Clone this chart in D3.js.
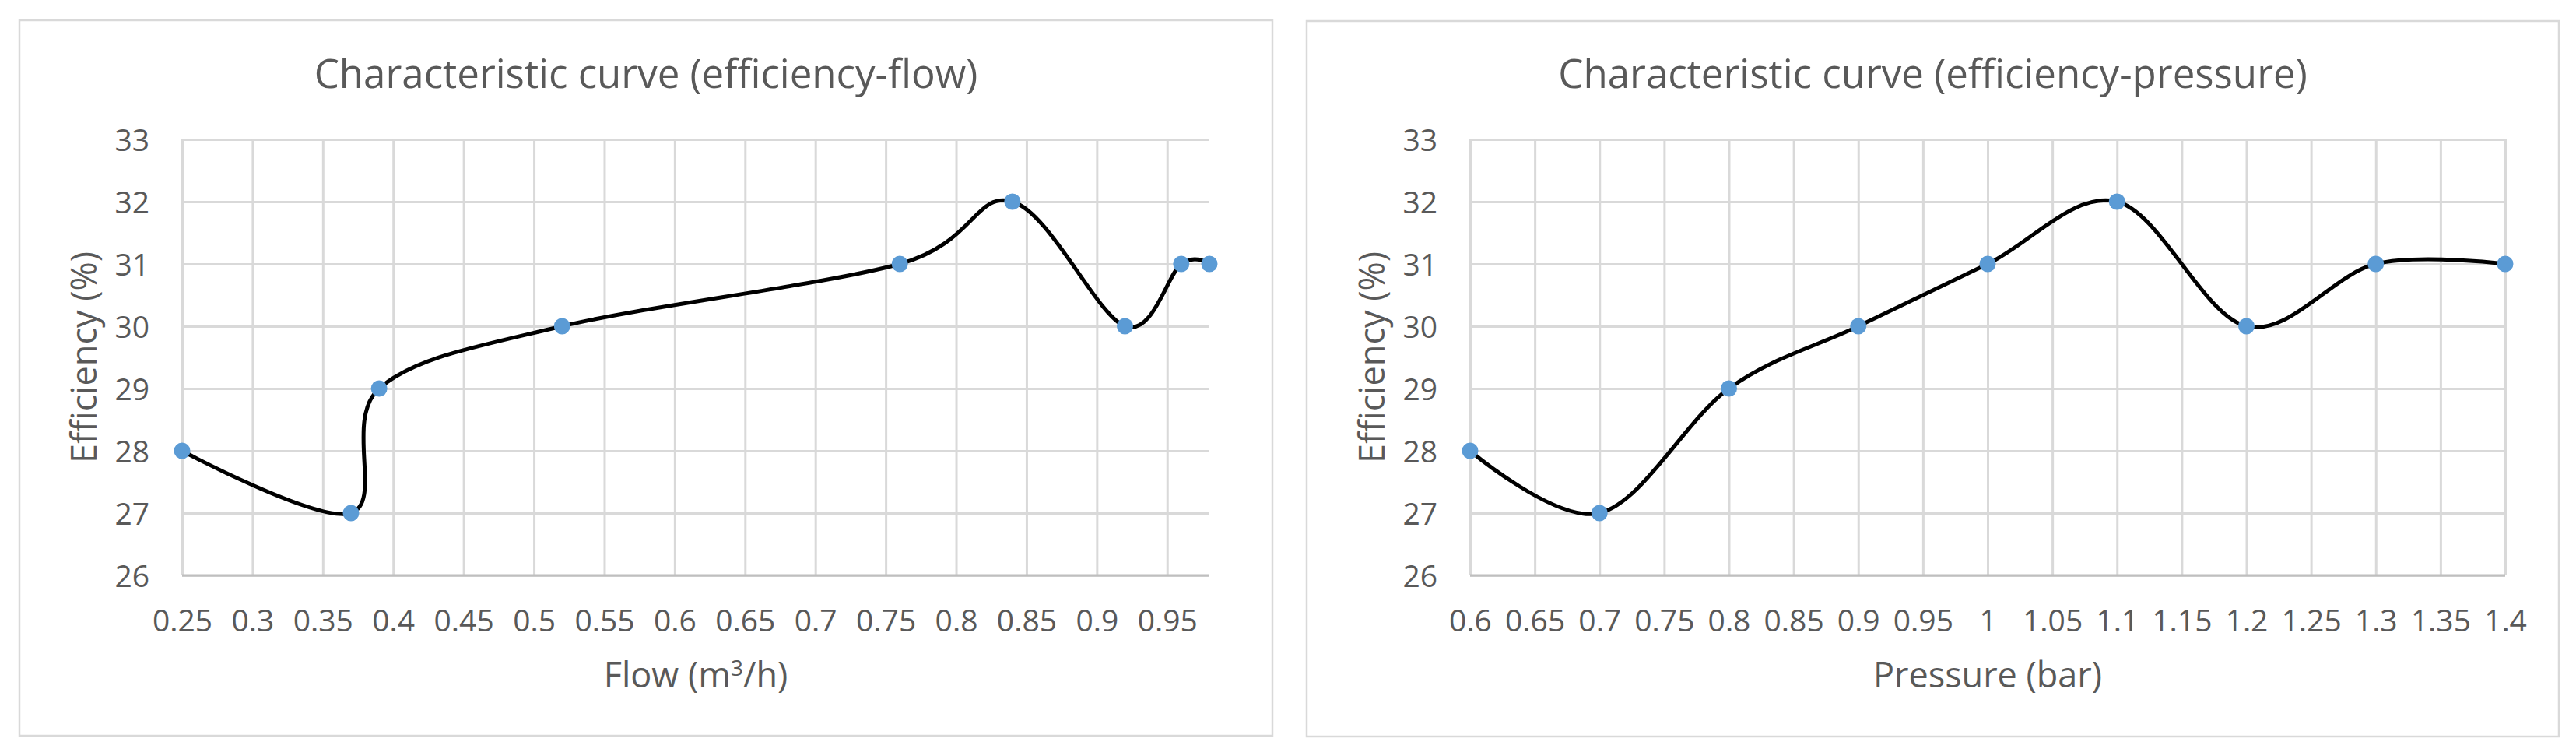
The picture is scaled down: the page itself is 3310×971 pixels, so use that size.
<!DOCTYPE html>
<html>
<head>
<meta charset="utf-8">
<script src="https://cdn.jsdelivr.net/npm/d3@7"></script>
<style>
  html, body { margin: 0; padding: 0; background: #fff; }
  svg { display: block; font-family: "Open Sans", sans-serif; }
</style>
</head>
<body>
<div id="chart"></div>
<script>
// DATA ------------------------
const flowValues = [0.25, 0.37, 0.39, 0.52, 0.76, 0.84, 0.92, 0.96, 0.98]
const efficiencyByFlow = [28, 27, 29, 30, 31, 32, 30, 31, 31]

const pressureValues = [0.6, 0.7, 0.8, 0.9, 1.0, 1.1, 1.2, 1.3, 1.4]
const efficiencyByPressure = [28, 27, 29, 30, 31, 32, 30, 31, 31]

const efficiencyTicks = [26, 27, 28, 29, 30, 31, 32, 33]
const flowTicks = [0.25, 0.3, 0.35, 0.4, 0.45, 0.5, 0.55, 0.6, 0.65, 0.7, 0.75, 0.8, 0.85, 0.9, 0.95]
const pressureTicks = [0.6, 0.65, 0.7, 0.75, 0.8, 0.85, 0.9, 0.95, 1, 1.05, 1.1, 1.15, 1.2, 1.25, 1.3, 1.35, 1.4]

// LAYOUT ----------------------
const SVG_WIDTH = 3310
const SVG_HEIGHT = 971
const TEXT_COLOR = "#595959"
const GRID_COLOR = "#d9d9d9"
const AXIS_COLOR = "#bfbfbf"
const MARKER_COLOR = "#5b9bd5"

const svg = d3
  .select("#chart")
  .append("svg")
  .attr("width", SVG_WIDTH)
  .attr("height", SVG_HEIGHT)
  .attr("viewBox", `0 0 ${SVG_WIDTH} ${SVG_HEIGHT}`)

svg.append("rect").attr("width", SVG_WIDTH).attr("height", SVG_HEIGHT).attr("fill", "#fff")

const drawChart = ({ frame, plot, title, xTitle, xValues, yValues, xTicks, xDomain }) => {
  const g = svg.append("g")

  g.append("rect")
    .attr("x", frame.x)
    .attr("y", frame.y)
    .attr("width", frame.w)
    .attr("height", frame.h)
    .attr("fill", "#fff")
    .attr("stroke", GRID_COLOR)
    .attr("stroke-width", 2.5)

  // SCALES ----------------------
  const xScale = d3.scaleLinear().domain(xDomain).range([plot.left, plot.right])
  const yScale = d3.scaleLinear().domain([26, 33]).range([plot.bottom, plot.top])

  // GRID + TICK LABELS ----------
  const yAxis = g
    .append("g")
    .attr("transform", `translate(${plot.left},0)`)
    .call(
      d3.axisLeft(yScale)
        .tickValues(efficiencyTicks)
        .tickSize(-(plot.right - plot.left))
        .tickPadding(42)
        .tickFormat(d => String(d))
    )
  yAxis.select(".domain").remove()
  yAxis.selectAll("line").attr("stroke", GRID_COLOR).attr("stroke-width", 3)
  yAxis.selectAll("text")
    .attr("fill", TEXT_COLOR)
    .attr("dy", "0.36em")
    .style("font-size", "39px")
    .style("font-family", "'Open Sans', sans-serif")

  const xAxis = g
    .append("g")
    .attr("transform", `translate(0,${plot.bottom})`)
    .call(
      d3.axisBottom(xScale)
        .tickValues(xTicks)
        .tickSize(-(plot.bottom - plot.top))
        .tickPadding(0)
        .tickFormat(d => String(d))
    )
  xAxis.select(".domain").remove()
  xAxis.selectAll("line").attr("stroke", GRID_COLOR).attr("stroke-width", 3)
  xAxis.selectAll("text")
    .attr("fill", TEXT_COLOR)
    .attr("y", 72)
    .attr("dy", 0)
    .style("font-size", "39px")
    .style("font-family", "'Open Sans', sans-serif")

  g.append("line")
    .attr("x1", plot.left)
    .attr("x2", plot.right)
    .attr("y1", plot.bottom)
    .attr("y2", plot.bottom)
    .attr("stroke", AXIS_COLOR)
    .attr("stroke-width", 3)

  // CURVE + MARKERS -------------
  const points = xValues.map((x, i) => ({ x, y: yValues[i] }))

  const line = d3
    .line()
    .x(d => xScale(d.x))
    .y(d => yScale(d.y))
    .curve(d3.curveCardinal.tension(0))

  g.append("path")
    .datum(points)
    .attr("d", line)
    .attr("fill", "none")
    .attr("stroke", "#000")
    .attr("stroke-width", 5)
    .attr("stroke-linejoin", "round")
    .attr("stroke-linecap", "round")

  g.selectAll("circle.marker")
    .data(points)
    .enter()
    .append("circle")
    .attr("class", "marker")
    .attr("cx", d => xScale(d.x))
    .attr("cy", d => yScale(d.y))
    .attr("r", 10.5)
    .attr("fill", MARKER_COLOR)

  // TITLES ----------------------
  g.append("text")
    .attr("x", frame.x + frame.w / 2)
    .attr("y", 113)
    .attr("text-anchor", "middle")
    .attr("fill", TEXT_COLOR)
    .style("font-size", "51px")
    .text(title)

  const xLabel = g.append("text")
    .attr("x", (plot.left + plot.right) / 2)
    .attr("y", 883)
    .attr("text-anchor", "middle")
    .attr("fill", TEXT_COLOR)
    .style("font-size", "45px")
  xTitle(xLabel)

  g.append("text")
    .attr("transform", `translate(${plot.left - 110},${(plot.top + plot.bottom) / 2}) rotate(-90)`)
    .attr("text-anchor", "middle")
    .attr("fill", TEXT_COLOR)
    .style("font-size", "45px")
    .text("Efficiency (%)")
}

drawChart({
  frame: { x: 25, y: 26, w: 1610, h: 919 },
  plot: { left: 234, right: 1554, top: 179, bottom: 739 },
  title: "Characteristic curve (efficiency-flow)",
  xTitle: t => {
    t.append("tspan").text("Flow (m")
    t.append("tspan").attr("font-size", "28px").attr("dy", "-15").text("3")
    t.append("tspan").attr("dy", "15").text("/h)")
  },
  xValues: flowValues,
  yValues: efficiencyByFlow,
  xTicks: flowTicks,
  xDomain: [0.25, 0.98],
})

drawChart({
  frame: { x: 1679, y: 27, w: 1609, h: 919 },
  plot: { left: 1889, right: 3219, top: 179, bottom: 739 },
  title: "Characteristic curve (efficiency-pressure)",
  xTitle: t => t.text("Pressure (bar)"),
  xValues: pressureValues,
  yValues: efficiencyByPressure,
  xTicks: pressureTicks,
  xDomain: [0.6, 1.4],
})
</script>
</body>
</html>
